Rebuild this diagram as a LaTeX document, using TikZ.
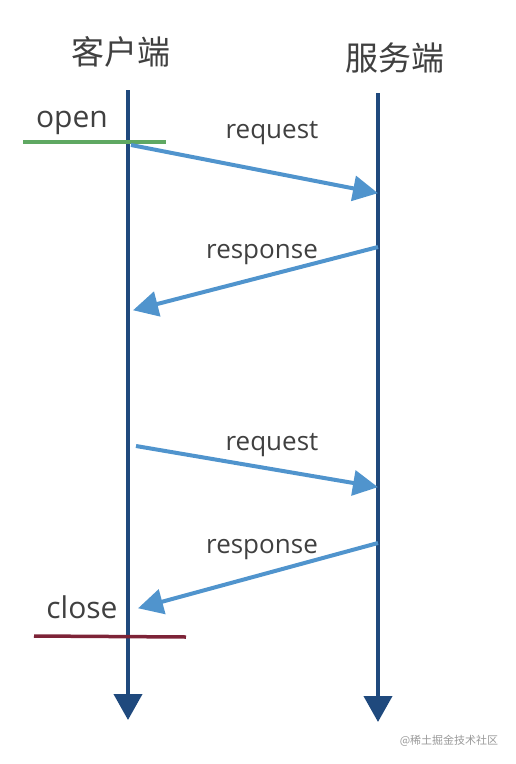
\documentclass[tikz,border=0pt]{standalone}
\usepackage{fontspec}
\setmainfont{Open Sans}
\newfontfamily\cjk{Noto Sans CJK SC}
\usetikzlibrary{arrows.meta}
\definecolor{lifeblue}{RGB}{31,73,125}
\definecolor{msgblue}{RGB}{80,148,205}
\definecolor{opengreen}{RGB}{95,168,98}
\definecolor{closered}{RGB}{125,35,55}
\definecolor{txtgray}{RGB}{64,64,64}
\tikzset{
  lifeline/.style={draw=lifeblue, line width=4pt, -{Triangle[length=26pt,width=28pt]}},
  msg/.style={draw=msgblue, line width=4pt, -{Triangle[length=25pt,width=25pt]}, shorten >=-1pt},
  lbl/.style={text=txtgray, font=\fontsize{26}{28}\selectfont, inner sep=0pt},
  biglbl/.style={text=txtgray, font=\fontsize{30}{32}\selectfont, inner sep=0pt},
  head/.style={text=txtgray, font=\cjk\fontsize{33}{36}\selectfont, inner sep=0pt},
  stateline/.style={line width=3.5pt}
}
\begin{document}
\begin{tikzpicture}[x=1pt,y=-1pt]
\useasboundingbox (0,0) rectangle (515,764);
% headers
\node[head] (cl) at (121,52) {客户端};
\node[head] (sv) at (395,58) {服务端};
% lifelines
\coordinate (c0) at (128,90);
\coordinate (c1) at (128,720);
\coordinate (s0) at (378,93);
\coordinate (s1) at (378,722);
\draw[lifeline] (c0) -- (c1);
\draw[lifeline] (s0) -- (s1);
% open / close markers
\coordinate (og0) at (23,142);
\coordinate (og1) at (166,142);
\draw[stateline, draw=opengreen] (og0) -- (og1);
\node[biglbl, anchor=base] (open) at (72,127) {open};
\coordinate (cr0) at (34,636);
\coordinate (cr1) at (186,637);
\draw[stateline, draw=closered] (cr0) -- (cr1);
\node[biglbl, anchor=base] (close) at (82,618) {close};
% messages
\coordinate (m1a) at (131,145);
\coordinate (m1b) at (377,193);
\coordinate (m2a) at (378,247);
\coordinate (m2b) at (134,310);
\coordinate (m3a) at (136,446);
\coordinate (m3b) at (377,487);
\coordinate (m4a) at (378,543);
\coordinate (m4b) at (139,608);
\draw[msg] (m1a) -- (m1b);
\draw[msg] (m2a) -- (m2b);
\draw[msg] (m3a) -- (m3b);
\draw[msg] (m4a) -- (m4b);
\node[lbl, anchor=base] (q1) at (272,138) {request};
\node[lbl, anchor=base] (r1) at (262,258) {response};
\node[lbl, anchor=base] (q2) at (272,450) {request};
\node[lbl, anchor=base] (r2) at (262,553) {response};
% watermark
\node[text=black!40, font=\cjk\fontsize{11}{12}\selectfont, inner sep=0pt] (wm) at (449,741) {@稀土掘金技术社区};
\end{tikzpicture}
\end{document}
